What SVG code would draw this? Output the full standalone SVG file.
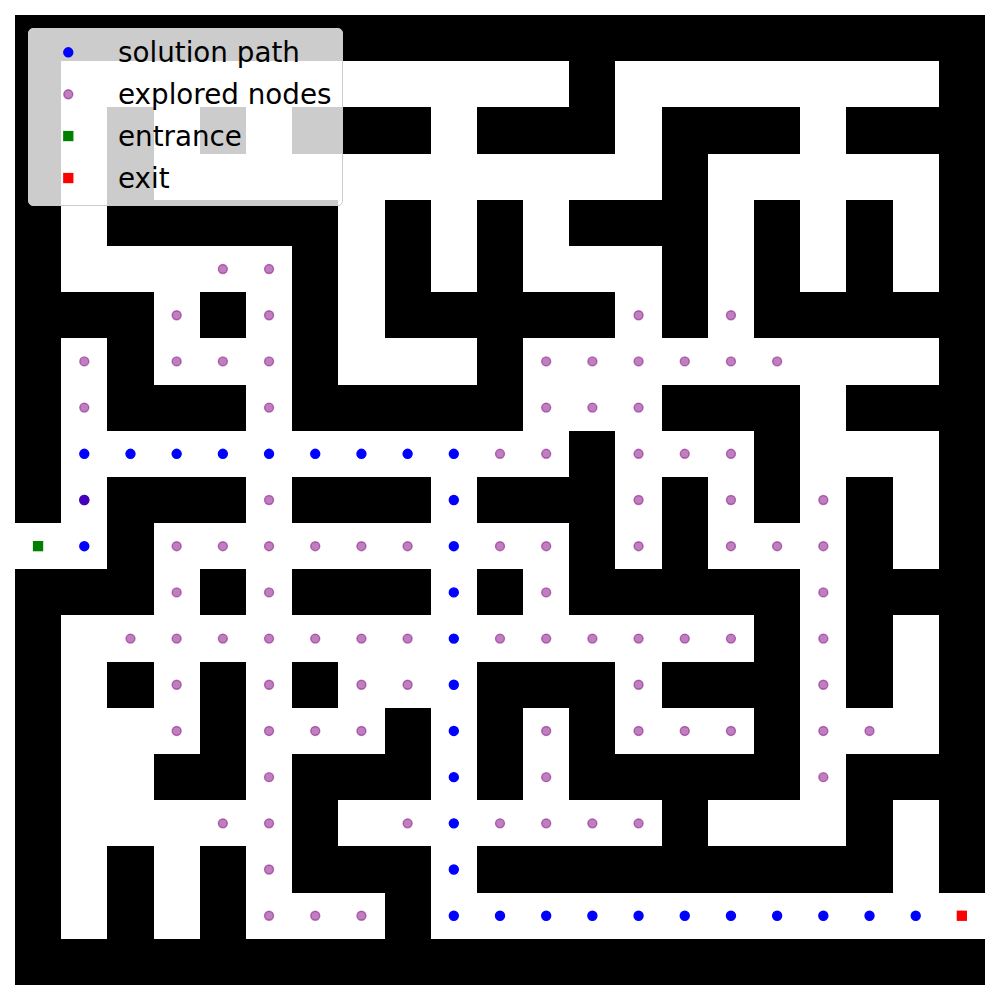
<svg xmlns="http://www.w3.org/2000/svg" width="1000" height="1000" viewBox="0 0 1000 1000">
<style>
.wall{fill:#000000}
.sol{fill:#0000ff;stroke:#0000ff;stroke-width:1.39}
.exp{fill:#800080;fill-opacity:0.5;stroke:#800080;stroke-opacity:0.5;stroke-width:1.39}
.lt{font-family:"DejaVu Sans","Liberation Sans",sans-serif;font-size:27.78px;fill:#000000}
</style>
<defs>
<circle id="s" r="4.5" class="sol"/>
<circle id="e" r="4.5" class="exp"/>
</defs>
<rect x="0" y="0" width="1000" height="1000" fill="#ffffff"/>
<g id="maze" transform="translate(15,15) scale(46.190476)" shape-rendering="crispEdges">
<rect x="0" y="0" width="21" height="21" fill="#ffffff"/>
<g class="wall">
<rect x="0" y="0" width="21" height="1"/>
<rect x="0" y="1" width="1" height="1"/><rect x="12" y="1" width="1" height="1"/><rect x="20" y="1" width="1" height="1"/>
<rect x="0" y="2" width="1" height="1"/><rect x="2" y="2" width="1" height="1"/><rect x="4" y="2" width="1" height="1"/><rect x="6" y="2" width="3" height="1"/><rect x="10" y="2" width="3" height="1"/><rect x="14" y="2" width="3" height="1"/><rect x="18" y="2" width="3" height="1"/>
<rect x="0" y="3" width="1" height="1"/><rect x="2" y="3" width="1" height="1"/><rect x="14" y="3" width="1" height="1"/><rect x="20" y="3" width="1" height="1"/>
<rect x="0" y="4" width="1" height="1"/><rect x="2" y="4" width="5" height="1"/><rect x="8" y="4" width="1" height="1"/><rect x="10" y="4" width="1" height="1"/><rect x="12" y="4" width="3" height="1"/><rect x="16" y="4" width="1" height="1"/><rect x="18" y="4" width="1" height="1"/><rect x="20" y="4" width="1" height="1"/>
<rect x="0" y="5" width="1" height="1"/><rect x="6" y="5" width="1" height="1"/><rect x="8" y="5" width="1" height="1"/><rect x="10" y="5" width="1" height="1"/><rect x="14" y="5" width="1" height="1"/><rect x="16" y="5" width="1" height="1"/><rect x="18" y="5" width="1" height="1"/><rect x="20" y="5" width="1" height="1"/>
<rect x="0" y="6" width="3" height="1"/><rect x="4" y="6" width="1" height="1"/><rect x="6" y="6" width="1" height="1"/><rect x="8" y="6" width="5" height="1"/><rect x="14" y="6" width="1" height="1"/><rect x="16" y="6" width="5" height="1"/>
<rect x="0" y="7" width="1" height="1"/><rect x="2" y="7" width="1" height="1"/><rect x="6" y="7" width="1" height="1"/><rect x="10" y="7" width="1" height="1"/><rect x="20" y="7" width="1" height="1"/>
<rect x="0" y="8" width="1" height="1"/><rect x="2" y="8" width="3" height="1"/><rect x="6" y="8" width="5" height="1"/><rect x="14" y="8" width="3" height="1"/><rect x="18" y="8" width="3" height="1"/>
<rect x="0" y="9" width="1" height="1"/><rect x="12" y="9" width="1" height="1"/><rect x="16" y="9" width="1" height="1"/><rect x="20" y="9" width="1" height="1"/>
<rect x="0" y="10" width="1" height="1"/><rect x="2" y="10" width="3" height="1"/><rect x="6" y="10" width="3" height="1"/><rect x="10" y="10" width="3" height="1"/><rect x="14" y="10" width="1" height="1"/><rect x="16" y="10" width="1" height="1"/><rect x="18" y="10" width="1" height="1"/><rect x="20" y="10" width="1" height="1"/>
<rect x="2" y="11" width="1" height="1"/><rect x="12" y="11" width="1" height="1"/><rect x="14" y="11" width="1" height="1"/><rect x="18" y="11" width="1" height="1"/><rect x="20" y="11" width="1" height="1"/>
<rect x="0" y="12" width="3" height="1"/><rect x="4" y="12" width="1" height="1"/><rect x="6" y="12" width="3" height="1"/><rect x="10" y="12" width="1" height="1"/><rect x="12" y="12" width="5" height="1"/><rect x="18" y="12" width="3" height="1"/>
<rect x="0" y="13" width="1" height="1"/><rect x="16" y="13" width="1" height="1"/><rect x="18" y="13" width="1" height="1"/><rect x="20" y="13" width="1" height="1"/>
<rect x="0" y="14" width="1" height="1"/><rect x="2" y="14" width="1" height="1"/><rect x="4" y="14" width="1" height="1"/><rect x="6" y="14" width="1" height="1"/><rect x="10" y="14" width="3" height="1"/><rect x="14" y="14" width="3" height="1"/><rect x="18" y="14" width="1" height="1"/><rect x="20" y="14" width="1" height="1"/>
<rect x="0" y="15" width="1" height="1"/><rect x="4" y="15" width="1" height="1"/><rect x="8" y="15" width="1" height="1"/><rect x="10" y="15" width="1" height="1"/><rect x="12" y="15" width="1" height="1"/><rect x="16" y="15" width="1" height="1"/><rect x="20" y="15" width="1" height="1"/>
<rect x="0" y="16" width="1" height="1"/><rect x="3" y="16" width="2" height="1"/><rect x="6" y="16" width="3" height="1"/><rect x="10" y="16" width="1" height="1"/><rect x="12" y="16" width="5" height="1"/><rect x="18" y="16" width="3" height="1"/>
<rect x="0" y="17" width="1" height="1"/><rect x="6" y="17" width="1" height="1"/><rect x="14" y="17" width="1" height="1"/><rect x="18" y="17" width="1" height="1"/><rect x="20" y="17" width="1" height="1"/>
<rect x="0" y="18" width="1" height="1"/><rect x="2" y="18" width="1" height="1"/><rect x="4" y="18" width="1" height="1"/><rect x="6" y="18" width="3" height="1"/><rect x="10" y="18" width="9" height="1"/><rect x="20" y="18" width="1" height="1"/>
<rect x="0" y="19" width="1" height="1"/><rect x="2" y="19" width="1" height="1"/><rect x="4" y="19" width="1" height="1"/><rect x="8" y="19" width="1" height="1"/>
<rect x="0" y="20" width="21" height="1"/>
</g>
</g>
<g id="solution">
<use href="#s" x="84.29" y="546.19"/><use href="#s" x="84.29" y="500"/>
<use href="#s" x="84.29" y="453.81"/><use href="#s" x="130.48" y="453.81"/><use href="#s" x="176.67" y="453.81"/><use href="#s" x="222.86" y="453.81"/><use href="#s" x="269.05" y="453.81"/><use href="#s" x="315.24" y="453.81"/><use href="#s" x="361.43" y="453.81"/><use href="#s" x="407.62" y="453.81"/><use href="#s" x="453.81" y="453.81"/>
<use href="#s" x="453.81" y="500"/><use href="#s" x="453.81" y="546.19"/><use href="#s" x="453.81" y="592.38"/><use href="#s" x="453.81" y="638.57"/><use href="#s" x="453.81" y="684.76"/><use href="#s" x="453.81" y="730.95"/><use href="#s" x="453.81" y="777.14"/><use href="#s" x="453.81" y="823.33"/><use href="#s" x="453.81" y="869.52"/><use href="#s" x="453.81" y="915.71"/>
<use href="#s" x="500" y="915.71"/><use href="#s" x="546.19" y="915.71"/><use href="#s" x="592.38" y="915.71"/><use href="#s" x="638.57" y="915.71"/><use href="#s" x="684.76" y="915.71"/><use href="#s" x="730.95" y="915.71"/><use href="#s" x="777.14" y="915.71"/><use href="#s" x="823.33" y="915.71"/><use href="#s" x="869.52" y="915.71"/><use href="#s" x="915.71" y="915.71"/>
</g>
<g id="explored">
<use href="#e" x="222.86" y="269.05"/><use href="#e" x="269.05" y="269.05"/>
<use href="#e" x="176.67" y="315.24"/><use href="#e" x="269.05" y="315.24"/><use href="#e" x="638.57" y="315.24"/><use href="#e" x="730.95" y="315.24"/>
<use href="#e" x="84.29" y="361.43"/><use href="#e" x="176.67" y="361.43"/><use href="#e" x="222.86" y="361.43"/><use href="#e" x="269.05" y="361.43"/><use href="#e" x="546.19" y="361.43"/><use href="#e" x="592.38" y="361.43"/><use href="#e" x="638.57" y="361.43"/><use href="#e" x="684.76" y="361.43"/><use href="#e" x="730.95" y="361.43"/><use href="#e" x="777.14" y="361.43"/>
<use href="#e" x="84.29" y="407.62"/><use href="#e" x="269.05" y="407.62"/><use href="#e" x="546.19" y="407.62"/><use href="#e" x="592.38" y="407.62"/><use href="#e" x="638.57" y="407.62"/>
<use href="#e" x="500" y="453.81"/><use href="#e" x="546.19" y="453.81"/><use href="#e" x="638.57" y="453.81"/><use href="#e" x="684.76" y="453.81"/><use href="#e" x="730.95" y="453.81"/>
<use href="#e" x="84.29" y="500"/><use href="#e" x="269.05" y="500"/><use href="#e" x="638.57" y="500"/><use href="#e" x="730.95" y="500"/><use href="#e" x="823.33" y="500"/>
<use href="#e" x="176.67" y="546.19"/><use href="#e" x="222.86" y="546.19"/><use href="#e" x="269.05" y="546.19"/><use href="#e" x="315.24" y="546.19"/><use href="#e" x="361.43" y="546.19"/><use href="#e" x="407.62" y="546.19"/><use href="#e" x="500" y="546.19"/><use href="#e" x="546.19" y="546.19"/><use href="#e" x="638.57" y="546.19"/><use href="#e" x="730.95" y="546.19"/><use href="#e" x="777.14" y="546.19"/><use href="#e" x="823.33" y="546.19"/>
<use href="#e" x="176.67" y="592.38"/><use href="#e" x="269.05" y="592.38"/><use href="#e" x="546.19" y="592.38"/><use href="#e" x="823.33" y="592.38"/>
<use href="#e" x="130.48" y="638.57"/><use href="#e" x="176.67" y="638.57"/><use href="#e" x="222.86" y="638.57"/><use href="#e" x="269.05" y="638.57"/><use href="#e" x="315.24" y="638.57"/><use href="#e" x="361.43" y="638.57"/><use href="#e" x="407.62" y="638.57"/><use href="#e" x="500" y="638.57"/><use href="#e" x="546.19" y="638.57"/><use href="#e" x="592.38" y="638.57"/><use href="#e" x="638.57" y="638.57"/><use href="#e" x="684.76" y="638.57"/><use href="#e" x="730.95" y="638.57"/><use href="#e" x="823.33" y="638.57"/>
<use href="#e" x="176.67" y="684.76"/><use href="#e" x="269.05" y="684.76"/><use href="#e" x="361.43" y="684.76"/><use href="#e" x="407.62" y="684.76"/><use href="#e" x="638.57" y="684.76"/><use href="#e" x="823.33" y="684.76"/>
<use href="#e" x="176.67" y="730.95"/><use href="#e" x="269.05" y="730.95"/><use href="#e" x="315.24" y="730.95"/><use href="#e" x="361.43" y="730.95"/><use href="#e" x="546.19" y="730.95"/><use href="#e" x="638.57" y="730.95"/><use href="#e" x="684.76" y="730.95"/><use href="#e" x="730.95" y="730.95"/><use href="#e" x="823.33" y="730.95"/><use href="#e" x="869.52" y="730.95"/>
<use href="#e" x="269.05" y="777.14"/><use href="#e" x="546.19" y="777.14"/><use href="#e" x="823.33" y="777.14"/>
<use href="#e" x="222.86" y="823.33"/><use href="#e" x="269.05" y="823.33"/><use href="#e" x="407.62" y="823.33"/><use href="#e" x="500" y="823.33"/><use href="#e" x="546.19" y="823.33"/><use href="#e" x="592.38" y="823.33"/><use href="#e" x="638.57" y="823.33"/>
<use href="#e" x="269.05" y="869.52"/>
<use href="#e" x="269.05" y="915.71"/><use href="#e" x="315.24" y="915.71"/><use href="#e" x="361.43" y="915.71"/>
</g>
<g id="entrance">
<rect x="33.6" y="541.7" width="8.9" height="8.9" fill="#008000" stroke="#008000" stroke-width="1.39"/>
</g>
<g id="exit">
<rect x="957.4" y="911.3" width="8.9" height="8.9" fill="#ff0000" stroke="#ff0000" stroke-width="1.39"/>
</g>
<g id="legend">
<rect x="28.5" y="28.5" width="314" height="177" rx="4.5" fill="#ffffff" fill-opacity="0.8" stroke="#cccccc" stroke-width="1"/>
<use href="#s" x="68.3" y="52.3"/>
<use href="#e" x="68.3" y="94.3"/>
<rect x="63.85" y="131.6" width="8.9" height="8.9" fill="#008000" stroke="#008000" stroke-width="1.39"/>
<rect x="63.85" y="173.6" width="8.9" height="8.9" fill="#ff0000" stroke="#ff0000" stroke-width="1.39"/>
<text class="lt" x="118" y="62">solution path</text>
<text class="lt" x="118" y="104">explored nodes</text>
<text class="lt" x="118" y="146">entrance</text>
<text class="lt" x="118" y="188">exit</text>
</g>
</svg>
